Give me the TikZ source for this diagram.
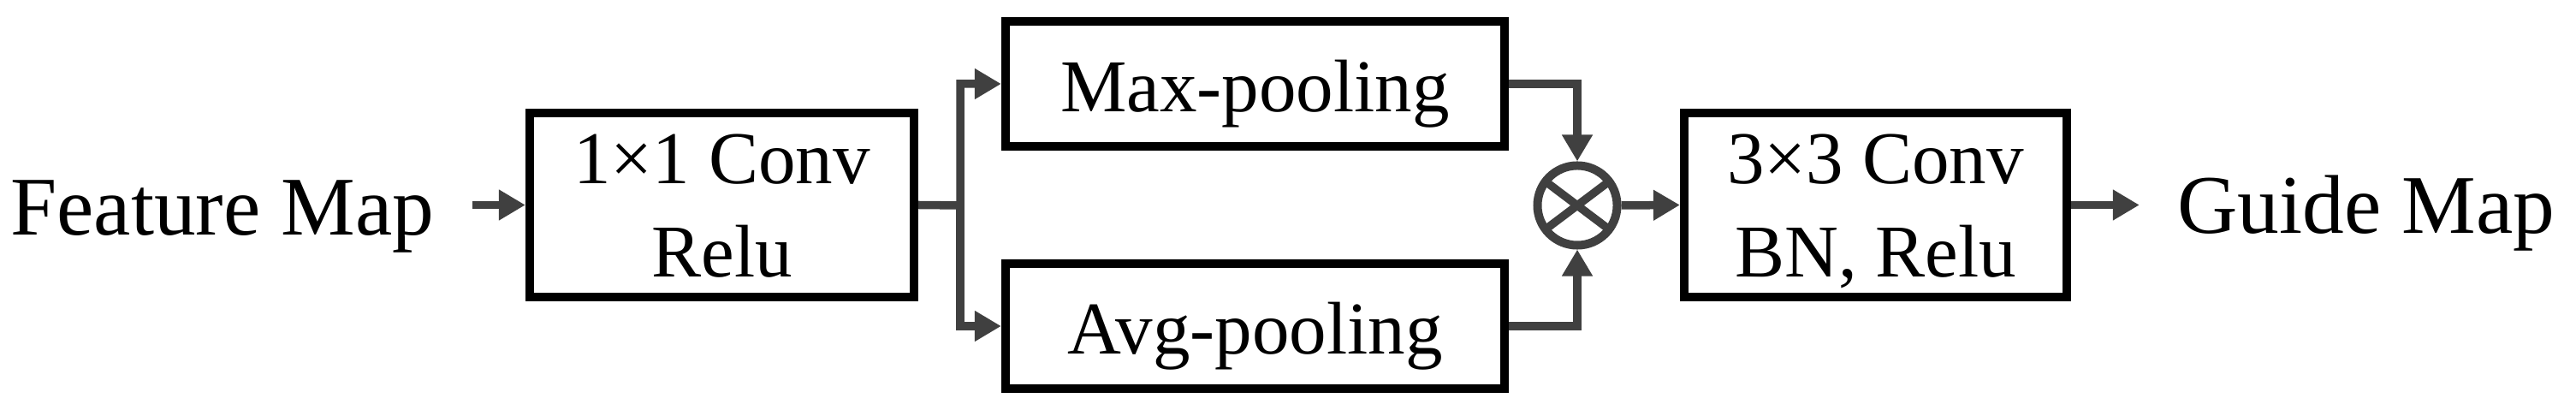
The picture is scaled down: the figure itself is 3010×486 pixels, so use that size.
\documentclass[tikz,border=0pt]{standalone}
\usepackage{fontspec}
\setmainfont{Liberation Serif}
\usetikzlibrary{arrows.meta}
\definecolor{arrowgray}{RGB}{64,64,64}
\tikzset{
  box/.style={draw=black, line width=0.1cm, rectangle, inner sep=0pt, fill=white},
  boxfont/.style={font=\fontsize{24.75pt}{30.73pt}\selectfont},
  twoline/.style={box, boxfont, text height=0.6cm, text depth=1.09cm},
  oneline/.style={box, boxfont, text height=0.64cm, text depth=0cm},
  outtext/.style={font=\fontsize{27.7pt}{33pt}\selectfont, inner sep=0pt, anchor=base},
  arr/.style={draw=arrowgray, line width=0.095cm, -{Triangle[length=0.31cm,width=0.34cm]}},
  conn/.style={draw=arrowgray, line width=0.095cm},
  multnode/.style={circle, draw=arrowgray, line width=0.1cm, minimum size=0.93cm, inner sep=0pt},
}
\begin{document}
\begin{tikzpicture}[x=0.01cm, y=-0.01cm]
\useasboundingbox (0,0) rectangle (3010,486);
% nodes
\node[outtext] (feat) at (260,275) {Feature Map};
\node[twoline, minimum width=4.49cm, minimum height=2.15cm] (conv1) at (843.5,239.5)
  {\begin{tabular}[t]{@{}c@{}}1×1 Conv\\Relu\end{tabular}};
\node[oneline, minimum width=5.83cm, minimum height=1.45cm] (max) at (1466.5,98) {Max-pooling};
\node[oneline, minimum width=5.83cm, minimum height=1.46cm] (avg) at (1466.5,381) {Avg-pooling};
\node[multnode] (mul) at (1843,240) {};
\draw[conn] (mul.center) +(37:0.46cm) -- +(217:0.46cm);
\draw[conn] (mul.center) +(143:0.46cm) -- +(323:0.46cm);
\node[twoline, minimum width=4.47cm, minimum height=2.15cm] (conv3) at (2191.5,239.5)
  {\begin{tabular}[t]{@{}c@{}}3×3 Conv\\BN, Relu\end{tabular}};
\node[outtext] (guide) at (2765,273) {Guide Map};
\coordinate (br) at (1122,240);
% connectors
\draw[arr, shorten <=0.44cm] (feat.east |- conv1.west) -- (conv1.west);
\draw[arr] (conv1.east) -- (br) |- (max.west);
\draw[arr] (br) |- (avg.west);
\draw[arr] (max.east) -| (mul.north);
\draw[arr] (avg.east) -| (mul.south);
\draw[arr] (mul.east) -- (conv3.west);
\draw[arr, shorten >=0.44cm] (conv3.east) -- (guide.west |- conv3.east);
\end{tikzpicture}
\end{document}
